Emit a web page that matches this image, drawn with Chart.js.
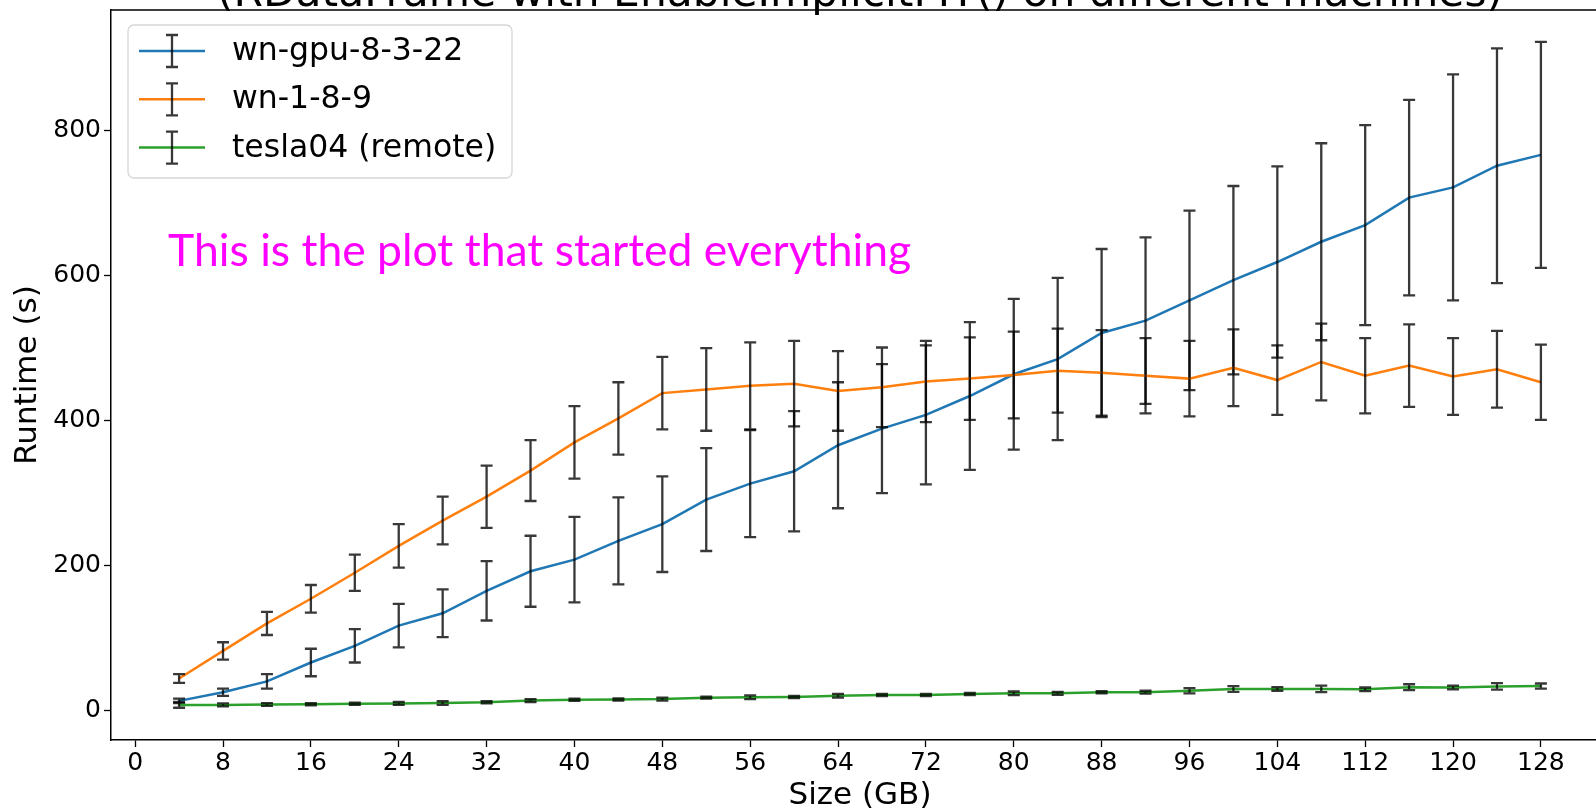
<!DOCTYPE html>
<html>
<head>
<meta charset="utf-8">
<title>Runtime vs size</title>
<script src="https://cdn.jsdelivr.net/npm/chart.js@4.4.1/dist/chart.umd.min.js"></script>
<style>
  html, body { margin: 0; padding: 0; background: #fff; }
  #wrap { width: 1596px; height: 811px; overflow: hidden; position: relative; }
  #chart { display: block; }
</style>
</head>
<body>
<div id="wrap"><canvas id="chart" width="1620" height="811"></canvas></div>
<script>
/* ── Data ── */
var sizesGB = [4, 8, 12, 16, 20, 24, 28, 32, 36, 40, 44, 48, 52, 56, 60, 64,
               68, 72, 76, 80, 84, 88, 92, 96, 100, 104, 108, 112, 116, 120, 124, 128];

var gpuRuntime = [13, 25, 40, 66, 89, 117, 134, 165, 192, 208, 234, 257, 291, 313, 330, 366,
                  389, 408, 434, 464, 485, 521, 538, 566, 594, 619, 647, 670, 708, 722, 752, 767];
var gpuErr     = [3, 5, 10, 19, 23, 30, 33, 41, 49, 59, 60, 66, 71, 74, 83, 87,
                  89, 96, 102, 104, 112, 116, 115, 124, 130, 132, 136, 138, 135, 156, 162, 156];

var wn1Runtime = [44, 82, 120, 154, 190, 227, 262, 295, 331, 370, 403, 438, 443, 448, 451, 441,
                  446, 454, 458, 463, 469, 466, 462, 458, 473, 456, 481, 462, 476, 461, 471, 453];
var wn1Err     = [6, 12, 16, 19, 25, 30, 33, 43, 42, 50, 50, 50, 57, 60, 59, 55,
                  55, 56, 57, 60, 58, 59, 52, 52, 53, 48, 53, 52, 57, 53, 53, 52];

var teslaRuntime = [7.5, 7.5, 8, 8.5, 9, 9.5, 10, 11, 13.5, 14.5, 15, 15.5, 17.5, 18, 18.5, 20,
                    21, 21, 22.5, 23.5, 23.5, 25, 25, 27, 29.5, 29.5, 29.5, 29, 32, 31.5, 33, 33.5];
var teslaErr     = [4, 2, 2, 1.5, 1.5, 2, 2.5, 1.5, 2, 1.5, 1.5, 2, 1.5, 2.5, 1.5, 2.5,
                    1.5, 1.5, 1.5, 2.5, 2, 1.5, 2, 3.5, 4, 2.5, 4.5, 2.5, 4, 2.5, 4.5, 3.5];

var seriesNames = ['wn-gpu-8-3-22', 'wn-1-8-9', 'tesla04 (remote)'];
var seriesColors = ['#1f77b4', '#ff7f0e', '#2ca02c'];

var xTicks = [0, 8, 16, 24, 32, 40, 48, 56, 64, 72, 80, 88, 96, 104, 112, 120, 128];
var yTicks = [0, 200, 400, 600, 800];

var titleText = '(RDataFrame with EnableImplicitMT() on different machines)';
var noteText = 'This is the plot that started everything';

/* ── Helpers ── */
function pts(ys) {
  return sizesGB.map(function(x, i) { return { x: x, y: ys[i] }; });
}

var errs = [gpuErr, wn1Err, teslaErr];
var means = [gpuRuntime, wn1Runtime, teslaRuntime];

var ERR_COLOR = 'rgba(0,0,0,0.78)';
var FONT = 'DejaVu Sans';

function drawErrBar(ctx, x, yTop, yBot, cap) {
  ctx.beginPath();
  ctx.moveTo(x, yTop); ctx.lineTo(x, yBot);
  ctx.moveTo(x - cap, yTop); ctx.lineTo(x + cap, yTop);
  ctx.moveTo(x - cap, yBot); ctx.lineTo(x + cap, yBot);
  ctx.stroke();
}

/* ── Error bars, drawn right after each series line ── */
var errorBarPlugin = {
  id: 'errorBars',
  afterDatasetDraw: function(chart, args) {
    var i = args.index;
    var xs = chart.scales.x, ys = chart.scales.y, ctx = chart.ctx;
    ctx.save();
    ctx.strokeStyle = ERR_COLOR;
    ctx.lineWidth = 2.3;
    sizesGB.forEach(function(gb, k) {
      var px = xs.getPixelForValue(gb);
      var top = ys.getPixelForValue(means[i][k] + errs[i][k]);
      var bot = ys.getPixelForValue(means[i][k] - errs[i][k]);
      drawErrBar(ctx, px, top, bot, 6);
    });
    ctx.restore();
  }
};

/* ── Frame, clipped title, note and legend ── */
var decorPlugin = {
  id: 'decor',
  afterDraw: function(chart) {
    var ctx = chart.ctx, a = chart.chartArea;
    var xs = chart.scales.x, ys = chart.scales.y;
    ctx.save();

    // top + right spines
    ctx.strokeStyle = '#000';
    ctx.lineWidth = 1.5;
    ctx.beginPath();
    ctx.moveTo(a.left, a.top); ctx.lineTo(a.right, a.top); ctx.lineTo(a.right, a.bottom);
    ctx.stroke();

    // title: only the bottom of its glyphs is left on the canvas
    ctx.font = '100px "' + FONT + '"';
    var w = ctx.measureText(titleText).width;
    ctx.font = (100 * 1285 / w).toFixed(1) + 'px "' + FONT + '"';
    ctx.fillStyle = '#000';
    ctx.textAlign = 'center';
    ctx.textBaseline = 'alphabetic';
    ctx.fillText(titleText, 860, 6);

    // magenta note, stretched to the reference width
    ctx.font = '44px Lato';
    ctx.textAlign = 'left';
    ctx.textBaseline = 'alphabetic';
    var nw = ctx.measureText(noteText).width;
    var nx = xs.getPixelForValue(3), ny = ys.getPixelForValue(614);
    ctx.save();
    ctx.translate(nx, ny);
    ctx.scale(743 / nw, 1);
    ctx.fillStyle = '#ff00ff';
    ctx.fillText(noteText, 0, 0);
    ctx.restore();

    // legend
    var bx = 128, by = 25, bw = 384, bh = 153, r = 6;
    ctx.beginPath();
    ctx.moveTo(bx + r, by);
    ctx.arcTo(bx + bw, by, bx + bw, by + bh, r);
    ctx.arcTo(bx + bw, by + bh, bx, by + bh, r);
    ctx.arcTo(bx, by + bh, bx, by, r);
    ctx.arcTo(bx, by, bx + bw, by, r);
    ctx.closePath();
    ctx.fillStyle = 'rgba(255,255,255,0.8)';
    ctx.fill();
    ctx.strokeStyle = '#d6d6d6';
    ctx.lineWidth = 1.3;
    ctx.stroke();

    ctx.font = '31.5px "' + FONT + '"';
    ctx.textBaseline = 'middle';
    seriesNames.forEach(function(name, i) {
      var cy = 51 + i * 48.3;
      ctx.strokeStyle = seriesColors[i];
      ctx.lineWidth = 2.5;
      ctx.beginPath(); ctx.moveTo(139, cy); ctx.lineTo(205, cy); ctx.stroke();
      ctx.strokeStyle = ERR_COLOR;
      ctx.lineWidth = 2.3;
      drawErrBar(ctx, 172, cy - 16, cy + 16, 6);
      ctx.fillStyle = '#000';
      ctx.fillText(name, 232, cy + 1);
    });

    ctx.restore();
  }
};

/* ── Chart ── */
var tickFont = { family: FONT, size: 25 };

new Chart(document.getElementById('chart'), {
  type: 'line',
  data: {
    datasets: seriesNames.map(function(name, i) {
      return {
        label: name,
        data: pts(means[i]),
        borderColor: seriesColors[i],
        borderWidth: 2.5,
        pointRadius: 0,
        tension: 0,
        fill: false,
        order: 3 - i
      };
    })
  },
  options: {
    responsive: false,
    animation: false,
    devicePixelRatio: 1,
    layout: { padding: { top: 10, right: 11, left: 0, bottom: 0 } },
    plugins: { legend: { display: false }, tooltip: { enabled: false } },
    scales: {
      x: {
        type: 'linear',
        min: -2.2,
        max: 134.2,
        afterBuildTicks: function(s) { s.ticks = xTicks.map(function(v) { return { value: v }; }); },
        afterFit: function(s) { s.height = 71; s.paddingLeft = 0; s.paddingRight = 0; },
        grid: { drawOnChartArea: false, drawTicks: true, tickLength: 7, tickColor: '#000', tickWidth: 1.3 },
        border: { color: '#000', width: 1.5 },
        ticks: { font: tickFont, color: '#000', padding: 1, maxRotation: 0, autoSkip: false },
        title: { display: true, text: 'Size (GB)', color: '#000', font: { family: FONT, size: 31, lineHeight: 1 }, padding: 0 }
      },
      y: {
        type: 'linear',
        min: -41,
        max: 967,
        afterBuildTicks: function(s) { s.ticks = yTicks.map(function(v) { return { value: v }; }); },
        afterFit: function(s) { s.width = 111; s.paddingTop = 0; s.paddingBottom = 0; },
        grid: { drawOnChartArea: false, drawTicks: true, tickLength: 7, tickColor: '#000', tickWidth: 1.3 },
        border: { color: '#000', width: 1.5 },
        ticks: { font: tickFont, color: '#000', padding: 3, autoSkip: false },
        title: { display: true, text: 'Runtime (s)', color: '#000', font: { family: FONT, size: 31, lineHeight: 1.2 }, padding: { top: 9, bottom: 0 } }
      }
    }
  },
  plugins: [errorBarPlugin, decorPlugin]
});
</script>
</body>
</html>
